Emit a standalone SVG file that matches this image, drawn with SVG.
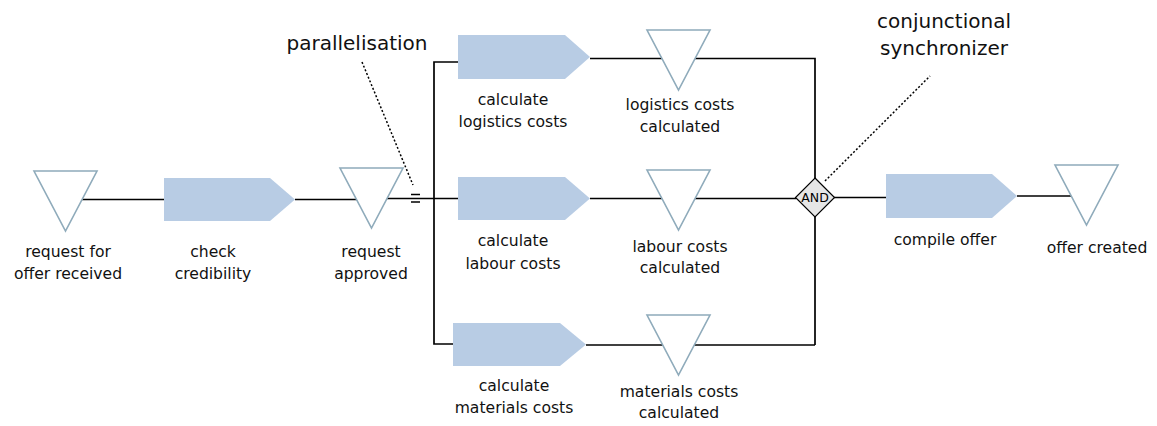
<svg xmlns="http://www.w3.org/2000/svg" width="1157" height="426" viewBox="0 0 1157 426">
<defs>
<style>
.fn{fill:#b8cce4;stroke:none}
.ev{fill:#ffffff;stroke:#8fabbb;stroke-width:1.6}
.cn{fill:none;stroke:#000;stroke-width:1.7}
.dot{fill:none;stroke:#000;stroke-width:1.5;stroke-dasharray:2,2}
.lbl{font-family:"DejaVu Sans",Verdana,sans-serif;font-size:15.6px;fill:#111;text-anchor:middle}
.big{font-family:"DejaVu Sans",Verdana,sans-serif;font-size:20px;fill:#111;text-anchor:middle}
.and{fill:#e6e6e6;stroke:#000;stroke-width:1.2}
.andt{font-family:"DejaVu Sans",Verdana,sans-serif;font-size:12.5px;fill:#000;text-anchor:middle}
</style>
</defs>
<rect width="1157" height="426" fill="#ffffff"/>
<g id="connectors">
<path class="cn" d="M66 199.5H164"/>
<path class="cn" d="M295 199.5H371"/>
<path class="cn" d="M371 198.5H458"/>
<path class="cn" d="M458 62H434V344H453"/>
<path class="cn" d="M590 58.5H815V345"/>
<path class="cn" d="M590 198.5H796"/>
<path class="cn" d="M586 345H815"/>
<path class="cn" d="M834 197.5H886"/>
<path class="cn" d="M1017 196H1087"/>
<path class="cn" d="M411 194.5H420M411 202H420" stroke-width="2"/>
<path class="dot" d="M362 62L413 185"/>
<path class="dot" d="M825 181L930 76"/>
</g>
<g id="ev-request-received">
<polygon class="ev" points="34,171 97,171 65.5,231"/>
<text class="lbl" x="68" y="257">request for</text>
<text class="lbl" x="68" y="279">offer received</text>
</g>
<g id="fn-check">
<polygon class="fn" points="164,178 270,178 295,199.5 270,221 164,221"/>
<text class="lbl" x="213" y="257">check</text>
<text class="lbl" x="213" y="279">credibility</text>
</g>
<g id="ev-request-approved">
<polygon class="ev" points="340,168 403,168 371.5,228"/>
<text class="lbl" x="371" y="257">request</text>
<text class="lbl" x="371" y="279">approved</text>
</g>
<g id="fn-logistics">
<polygon class="fn" points="458,35 565,35 590,57 565,79 458,79"/>
<text class="lbl" x="513" y="105">calculate</text>
<text class="lbl" x="513" y="127">logistics costs</text>
</g>
<g id="fn-labour">
<polygon class="fn" points="458,177 565,177 590,198.5 565,220 458,220"/>
<text class="lbl" x="513" y="246">calculate</text>
<text class="lbl" x="513" y="269">labour costs</text>
</g>
<g id="fn-materials">
<polygon class="fn" points="453,323 560,323 586,344.5 560,366 453,366"/>
<text class="lbl" x="514" y="391">calculate</text>
<text class="lbl" x="514" y="413">materials costs</text>
</g>
<g id="ev-logistics">
<polygon class="ev" points="647,30 710,30 678.5,90"/>
<text class="lbl" x="680" y="110">logistics costs</text>
<text class="lbl" x="680" y="132">calculated</text>
</g>
<g id="ev-labour">
<polygon class="ev" points="647,170 710,170 678.5,230"/>
<text class="lbl" x="680" y="252">labour costs</text>
<text class="lbl" x="680" y="273">calculated</text>
</g>
<g id="ev-materials">
<polygon class="ev" points="647,315 710,315 678.5,375"/>
<text class="lbl" x="679" y="397">materials costs</text>
<text class="lbl" x="679" y="418">calculated</text>
</g>
<g id="and">
<polygon class="and" points="815,178 834.5,197.5 815,217 795.5,197.5"/>
<text class="andt" x="815" y="202">AND</text>
</g>
<g id="fn-compile">
<polygon class="fn" points="886,174 992,174 1017,196 992,218 886,218"/>
<text class="lbl" x="945" y="245">compile offer</text>
</g>
<g id="ev-offer-created">
<polygon class="ev" points="1055,165 1118,165 1086.5,225"/>
<text class="lbl" x="1097" y="253">offer created</text>
</g>
<g id="label-parallelisation">
<text class="big" x="357" y="50">parallelisation</text>
</g>
<g id="label-synchronizer">
<text class="big" x="944" y="28">conjunctional</text>
<text class="big" x="944" y="55">synchronizer</text>
</g>
</svg>
